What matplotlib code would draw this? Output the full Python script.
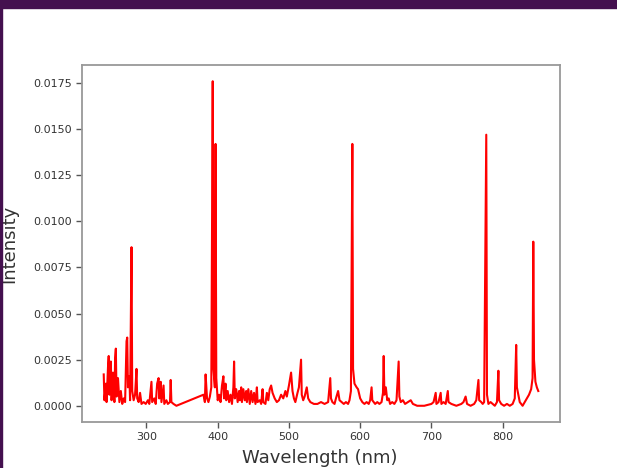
import matplotlib.pyplot as plt
from matplotlib.patches import Rectangle

# emission spectrum (nm, intensity)
wavelength = [240, 241, 243, 244, 246, 247, 248, 250, 251, 253, 255, 256, 257, 258, 260, 262, 264, 266, 268, 270,
              272, 273, 274, 276, 277, 279, 280, 282, 284, 286, 287, 289, 291, 293, 296, 299, 302, 304, 307, 308,
              311, 313, 315, 317, 318, 320, 321, 324, 325, 328, 330, 333, 334, 335, 338, 342, 380, 382, 383, 385,
              387, 389, 391, 393, 394, 396, 397, 398, 400, 402, 404, 406, 408, 409, 411, 412, 414, 416, 418, 420,
              422, 423, 424, 426, 428, 430, 431, 433, 434, 436, 438, 440, 441, 443, 445, 447, 449, 451, 453, 455,
              456, 459, 461, 463, 464, 467, 469, 471, 473, 475, 477, 480, 483, 486, 489, 492, 495, 497, 500, 503,
              505, 507, 509, 512, 514, 517, 518, 520, 522, 525, 527, 530, 535, 540, 545, 550, 555, 558, 559, 561,
              564, 566, 569, 571, 574, 577, 580, 583, 585, 587, 589, 590, 592, 595, 597, 600, 603, 606, 609, 612,
              614, 616, 617, 619, 621, 624, 627, 630, 632, 633, 634, 636, 638, 640, 642, 645, 648, 651, 654, 655,
              657, 660, 663, 667, 671, 674, 680, 690, 700, 703, 706, 707, 710, 713, 714, 717, 720, 723, 724, 728,
              735, 742, 745, 748, 750, 755, 760, 763, 766, 767, 770, 772, 774, 777, 778, 780, 783, 786, 789, 792,
              794, 795, 798, 802, 806, 810, 814, 817, 819, 820, 822, 824, 826, 828, 831, 834, 837, 840, 842, 843,
              844, 846, 848, 850]
intensity = [0.0017, 0.0003, 0.0012, 0.0002, 0.0021, 0.0027, 0.0006, 0.0024, 0.0003, 0.0018, 0.0002, 0.0026, 0.0031, 0.0005, 0.0015, 0.0002, 0.0008, 0.0001, 0.0004, 0.0002,
             0.0035, 0.0037, 0.0010, 0.0016, 0.0003, 0.0086, 0.0008, 0.0003, 0.0006, 0.0020, 0.0004, 0.0002, 0.0007, 0.0001, 0.0002, 0.0001, 0.0003, 0.0001, 0.0013, 0.0002,
             0.0004, 0.0001, 0.0012, 0.0015, 0.0004, 0.0013, 0.0002, 0.0011, 0.0001, 0.0003, 0.0001, 0.0002, 0.0014, 0.0002, 0.0001, 0.0000, 0.0006, 0.0002, 0.0017, 0.0004,
             0.0002, 0.0005, 0.0010, 0.0176, 0.0020, 0.0010, 0.0142, 0.0015, 0.0003, 0.0006, 0.0002, 0.0011, 0.0016, 0.0004, 0.0012, 0.0003, 0.0008, 0.0002, 0.0006, 0.0001,
             0.0010, 0.0024, 0.0004, 0.0009, 0.0002, 0.0008, 0.0003, 0.0010, 0.0002, 0.0009, 0.0003, 0.0008, 0.0002, 0.0009, 0.0001, 0.0008, 0.0002, 0.0007, 0.0001, 0.0010,
             0.0002, 0.0003, 0.0001, 0.0009, 0.0002, 0.0001, 0.0007, 0.0003, 0.0009, 0.0011, 0.0007, 0.0004, 0.0002, 0.0003, 0.0006, 0.0004, 0.0008, 0.0005, 0.0011, 0.0018,
             0.0008, 0.0004, 0.0002, 0.0007, 0.0010, 0.0025, 0.0006, 0.0003, 0.0005, 0.0010, 0.0004, 0.0002, 0.0001, 0.0001, 0.0002, 0.0001, 0.0002, 0.0015, 0.0004, 0.0002,
             0.0001, 0.0004, 0.0008, 0.0003, 0.0002, 0.0001, 0.0002, 0.0001, 0.0003, 0.0008, 0.0142, 0.0020, 0.0012, 0.0010, 0.0009, 0.0004, 0.0002, 0.0001, 0.0002, 0.0001,
             0.0003, 0.0010, 0.0003, 0.0002, 0.0001, 0.0002, 0.0001, 0.0002, 0.0007, 0.0027, 0.0006, 0.0010, 0.0003, 0.0004, 0.0001, 0.0002, 0.0001, 0.0003, 0.0024, 0.0005,
             0.0002, 0.0003, 0.0001, 0.0002, 0.0003, 0.0001, 0.0000, 0.0000, 0.0001, 0.0002, 0.0007, 0.0001, 0.0002, 0.0007, 0.0001, 0.0002, 0.0001, 0.0008, 0.0002, 0.0001,
             0.0000, 0.0001, 0.0002, 0.0005, 0.0001, 0.0000, 0.0001, 0.0003, 0.0014, 0.0003, 0.0002, 0.0001, 0.0002, 0.0147, 0.0006, 0.0001, 0.0002, 0.0001, 0.0000, 0.0002,
             0.0019, 0.0003, 0.0001, 0.0000, 0.0001, 0.0000, 0.0001, 0.0004, 0.0033, 0.0010, 0.0006, 0.0002, 0.0001, 0.0000, 0.0002, 0.0004, 0.0006, 0.0009, 0.0015, 0.0089,
             0.0025, 0.0013, 0.0010, 0.0008]
xticks = [300, 400, 500, 600, 700, 800]
yticks = [0.0, 0.0025, 0.005, 0.0075, 0.01, 0.0125, 0.015, 0.0175]

fig = plt.figure(figsize=(6.17, 4.68), dpi=100)
# slide frame around the chart
fig.patches.append(Rectangle((0, 460 / 468), 1, 8 / 468, transform=fig.transFigure, color='#44104f', zorder=0))
fig.patches.append(Rectangle((0, 0), 2 / 617, 1, transform=fig.transFigure, color='#44104f', zorder=0))

ax = fig.add_axes([82 / 617, 46 / 468, 478 / 617, 357 / 468])
ax.plot(wavelength, intensity, color='red', lw=1.5)
ax.set_xticks(xticks)
ax.set_yticks(yticks)
ax.set_yticklabels(['%.4f' % t for t in yticks])
ax.tick_params(labelsize=8, colors='#555555', labelcolor='#333333', width=1.0, length=4)
for s in ax.spines.values():
    s.set_color('#999999')
    s.set_linewidth(1.3)
ax.set_xlabel('Wavelength (nm)', fontsize=13, color='#333333')
ax.set_ylabel('Intensity', fontsize=13, color='#333333')
ax.yaxis.set_label_coords(-0.133, 0.5)
ax.xaxis.set_label_coords(0.497, -0.075)

plt.savefig('out.png', dpi=100)
